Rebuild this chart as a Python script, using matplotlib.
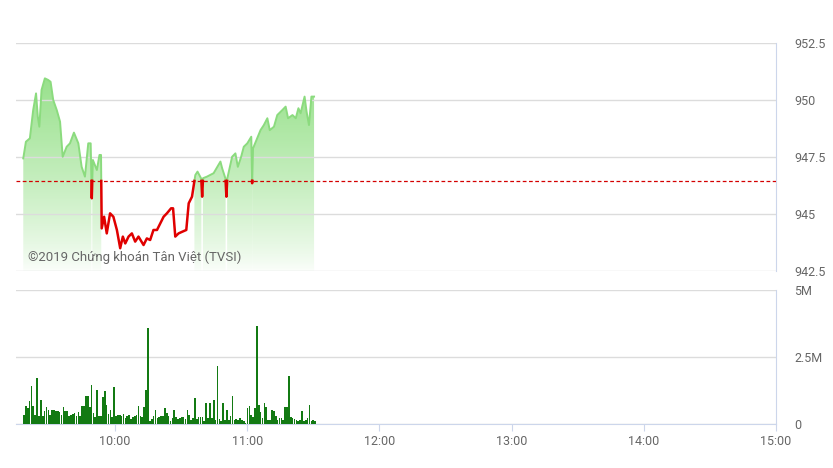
import numpy as np
import matplotlib
matplotlib.use("Agg")
import matplotlib.pyplot as plt
from matplotlib.path import Path
from matplotlib.colors import LinearSegmentedColormap

plt.rcParams['font.family'] = ['Roboto', 'DejaVu Sans']

# price series: minutes after 9:00, index value
price_times = [18.3, 19.5, 21.3, 22.8, 24.1, 24.9, 25.6, 26.6, 28.1, 29.6, 30.7, 31.9, 33.5, 35.0,
               36.2, 38.0, 39.5, 41.3, 43.3, 44.8, 46.3, 47.8, 48.9, 49.4, 49.9, 51.7, 52.9, 53.6,
               53.9, 55.0, 56.2, 57.7, 59.2, 60.8, 62.3, 63.5, 64.6, 66.1, 67.6, 69.1, 70.6, 72.9,
               74.4, 75.9, 77.4, 79.0, 80.5, 82.0, 83.5, 85.4, 86.3, 87.3, 88.8, 90.4, 92.3, 93.4,
               94.9, 96.4, 97.4, 99.1, 99.5, 99.9, 101.7, 104.7, 107.8, 108.6, 110.1, 110.5, 110.9,
               113.1, 114.6, 115.7, 117.2, 118.4, 120.0, 121.8, 122.2, 122.6, 126.0, 127.5, 129.1,
               130.2, 132.1, 133.6, 135.9, 137.4, 138.5, 140.5, 142.0, 143.2, 144.2, 146.0, 146.9,
               148.0, 149.1, 150.3]
price_values = [947.44, 948.17, 948.32, 949.56, 950.29, 949.27, 948.83, 950.44, 950.95, 950.88,
                950.80, 950.00, 949.56, 949.05, 947.51, 947.95, 948.10, 948.57, 948.10, 947.07,
                946.64, 948.10, 948.10, 945.69, 947.37, 946.93, 947.59, 947.59, 944.37, 944.88,
                944.15, 945.03, 944.88, 944.30, 943.50, 944.01, 943.71, 944.01, 944.15, 943.79,
                944.01, 943.64, 943.93, 943.86, 944.30, 944.30, 944.59, 944.88, 945.03, 945.25,
                945.25, 944.01, 944.15, 944.22, 944.30, 945.47, 945.76, 946.71, 946.86, 946.55,
                945.76, 946.57, 946.64, 946.79, 947.30, 947.00, 946.55, 945.76, 946.55, 947.51,
                947.66, 947.07, 947.51, 947.95, 948.10, 948.39, 946.35, 947.88, 948.68, 948.90,
                949.20, 948.68, 948.83, 949.34, 949.56, 949.71, 949.20, 949.34, 949.20, 949.64,
                949.42, 950.15, 949.49, 948.90, 950.15, 950.15]
ref_price = 946.45

# traded volume per bar, millions
volumes = [0.35, 0.68, 0.60, 0.87, 1.41, 0.68, 0.35, 1.72, 0.31, 0.88, 0.29, 0.47, 0.63, 0.51,
           0.35, 0.53, 0.53, 0.47, 0.47, 0.44, 0.32, 0.63, 0.50, 0.50, 0.31, 0.35, 0.37, 0.41,
           0.31, 0.44, 0.31, 0.66, 0.66, 1.03, 1.03, 0.63, 1.47, 0.41, 0.25, 1.28, 0.31, 0.31,
           1.00, 1.22, 0.72, 0.37, 0.53, 0.26, 1.38,
           0.29, 0.32, 0.32, 0.29, 0.37, 0.22, 0.29, 0.32, 0.20, 0.26, 0.29, 0.32, 0.68, 0.29,
           0.25, 0.63, 1.28, 3.58, 0.12, 0.20, 0.29, 0.53, 0.22, 0.26, 0.29, 0.29, 0.60, 0.41,
           0.29, 0.10, 0.22, 0.53, 0.26, 0.20, 0.22, 0.26, 0.26, 0.19, 0.51, 0.35, 0.16, 0.22,
           0.97, 0.19, 0.26, 0.27, 0.26, 0.10, 0.78, 0.22, 0.78,
           0.22, 0.91, 0.16, 2.18, 0.20, 0.10, 0.78, 0.16, 0.53, 0.16, 0.29, 1.06, 0.16, 0.19,
           0.16, 0.22, 0.14, 0.10, 0.04, 0.60, 0.68, 0.35, 0.25, 0.60, 3.64, 0.72, 0.44, 0.22,
           0.78, 0.63, 0.16, 0.16, 0.51, 0.47, 0.29, 0.16, 0.22, 0.22, 0.16, 0.63, 0.63, 1.78,
           0.26, 0.22, 0.20, 0.16, 0.10, 0.16, 0.47, 0.10, 0.16, 0.22, 0.72, 0.10, 0.16, 0.10]
vol_first, vol_last = 18.6, 150.8

hour_ticks = [60, 120, 180, 240, 300, 360]
hour_labels = ['10:00', '11:00', '12:00', '13:00', '14:00', '15:00']
price_ticks = [942.5, 945, 947.5, 950, 952.5]
price_labels = ['942.5', '945', '947.5', '950', '952.5']
vol_ticks = [0, 2.5, 5]
vol_labels = ['0', '2.5M', '5M']

GRID = '#dcdcdc'
AXIS = '#ccd6eb'
TXT = '#666666'


def split_at(t, v, ref):
    tt, vv = [t[0]], [v[0]]
    for i in range(1, len(t)):
        if (v[i - 1] - ref) * (v[i] - ref) < 0:
            f = (ref - v[i - 1]) / (v[i] - v[i - 1])
            tt.append(t[i - 1] + f * (t[i] - t[i - 1]))
            vv.append(ref)
        tt.append(t[i])
        vv.append(v[i])
    return np.array(tt), np.array(vv)


fig = plt.figure(figsize=(8.33, 4.68), dpi=100)
ax = fig.add_axes([0.0192, 0.4209, 0.9124, 0.4872])
axv = fig.add_axes([0.0192, 0.0940, 0.9124, 0.2863])

xmin, xmax = 15, 360
ymin, ymax = 942.5, 952.5

# price panel
tt, vv = split_at(price_times, price_values, ref_price)
up = vv >= ref_price
fill = ax.fill_between(tt, vv, ymin, where=up, color='none', linewidth=0)
clip = Path.make_compound_path(*fill.get_paths())
ramp = np.linspace(0, 1, 256)
alphas = 0.03 + 0.92 * ramp ** 0.8
cmap = LinearSegmentedColormap.from_list(
    'g', [(0.52, 0.86, 0.46, a) for a in alphas])
grad = ramp.reshape(-1, 1)
img = ax.imshow(grad, cmap=cmap, origin='lower', aspect='auto',
                extent=[xmin, xmax, ymin, ymax], zorder=1)
img.set_clip_path(clip, ax.transData)

ax.plot(tt, np.where(vv >= ref_price, vv, np.nan), color='#8bdb7e', lw=1.4, zorder=3)
ax.plot(tt, np.where(vv <= ref_price, vv, np.nan), color='#e00000', lw=1.8, zorder=3)
ax.axhline(ref_price, color='#d40000', lw=0.9, ls=(0, (3, 2)), zorder=4)

ax.set_xlim(xmin, xmax)
ax.set_ylim(ymin, ymax)
ax.set_yticks(price_ticks)
ax.set_yticklabels(price_labels)
ax.set_xticks([])
ax.yaxis.tick_right()
ax.tick_params(axis='y', length=0, pad=13, labelsize=9, labelcolor=TXT)
ax.grid(axis='y', color=GRID, lw=1)
for s in ['left', 'top', 'bottom']:
    ax.spines[s].set_visible(False)
ax.spines['right'].set_color(AXIS)
ax.text(20.5, 943.1, '©2019 Chứng khoán Tân Việt (TVSI)', fontsize=9.5, color=TXT,
        va='center', ha='left', zorder=5)

# volume panel
vol_times = np.linspace(vol_first, vol_last, len(volumes))
axv.bar(vol_times, volumes, width=0.75, color='#137a13', linewidth=0,
        antialiased=False, zorder=3)
axv.set_xlim(xmin, xmax)
axv.set_ylim(0, 5)
axv.set_yticks(vol_ticks)
axv.set_yticklabels(vol_labels)
axv.yaxis.tick_right()
axv.tick_params(axis='y', length=0, pad=13, labelsize=9, labelcolor=TXT)
axv.set_xticks(hour_ticks)
axv.set_xticklabels(hour_labels)
axv.tick_params(axis='x', length=5, color=AXIS, labelsize=9, labelcolor=TXT, pad=3)
axv.grid(axis='y', color=GRID, lw=1)
for s in ['left', 'top']:
    axv.spines[s].set_visible(False)
axv.spines['right'].set_color(AXIS)
axv.spines['bottom'].set_color(AXIS)

fig.savefig('out.png', dpi=100)
